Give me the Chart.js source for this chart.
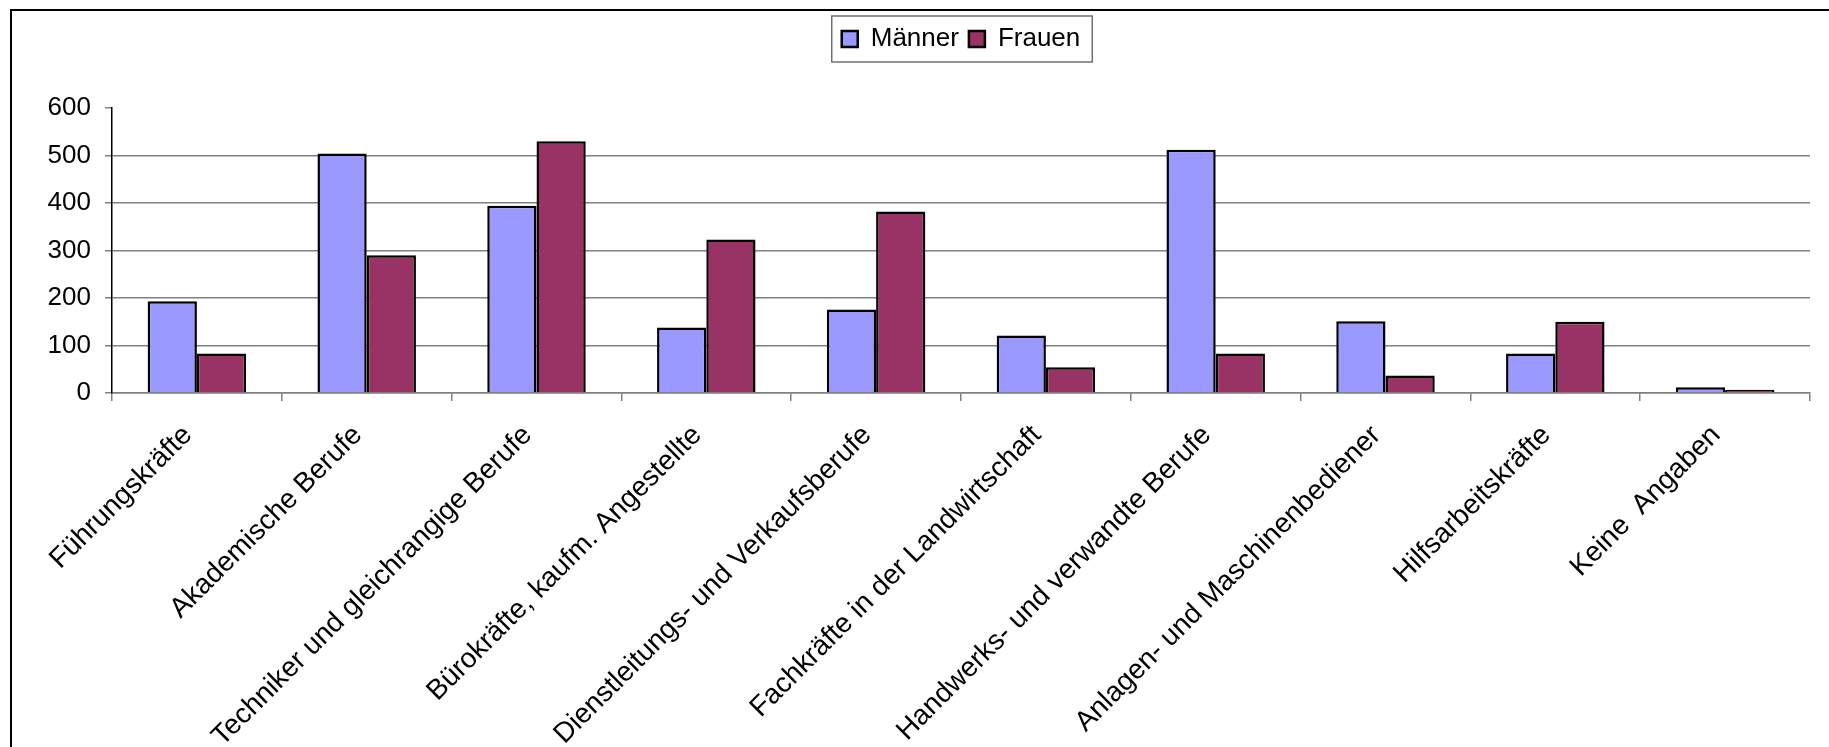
<!DOCTYPE html>
<html>
<head>
<meta charset="utf-8">
<script src="https://cdn.jsdelivr.net/npm/chart.js@4.4.0/dist/chart.umd.min.js"></script>
<style>
    html, body { margin: 0; padding: 0; background: #fff; overflow: hidden; }
    #frame { position: absolute; left: 10px; top: 9px; width: 1900px; height: 800px; border-top: 2px solid #000; border-left: 2px solid #000; }
    #wrap { position: absolute; left: 0; top: 0; width: 1829px; height: 747px; }
</style>
</head>
<body>
<div id="frame"></div>
<div id="wrap"><canvas id="barChart"></canvas></div>
<script>
var categories = [
    'Führungskräfte',
    'Akademische Berufe',
    'Techniker und gleichrangige Berufe',
    'Bürokräfte, kaufm. Angestellte',
    'Dienstleitungs- und Verkaufsberufe',
    'Fachkräfte in der Landwirtschaft',
    'Handwerks- und verwandte Berufe',
    'Anlagen- und Maschinenbediener',
    'Hilfsarbeitskräfte',
    'Keine  Angaben'
];
var maenner = [193, 504, 394, 138, 176, 121, 512, 151, 83, 12];
var frauen = [83, 290, 530, 323, 382, 54, 83, 37, 150, 7];
var yMin = 0;
var yMax = 600;
var yStep = 100;

var fontFamily = '"Liberation Sans", Arial, sans-serif';

// frame around the legend, like the old spreadsheet chart
var legendBox = {
    id: 'legendBox',
    beforeLayout: function (chart) {
        var lg = chart.legend;
        if (lg && !lg._extraSpace) {
            var origFit = lg.fit;
            lg.fit = function () {
                origFit.call(this);
                this.height += 46; // gap between legend and plot
            };
            lg._extraSpace = true;
        }
    },
    afterDraw: function (chart) {
        var boxes = chart.legend.legendHitBoxes;
        if (!boxes || !boxes.length) return;
        var first = boxes[0], last = boxes[boxes.length - 1];
        var ctx = chart.ctx;
        ctx.save();
        ctx.strokeStyle = '#707070';
        ctx.lineWidth = 1.5;
        ctx.strokeRect(first.left - 10, first.top - 10,
            last.left + last.width - first.left + 22, first.height + 20);
        ctx.restore();
    }
};

document.addEventListener('DOMContentLoaded', function () {
    var ctx = document.getElementById('barChart').getContext('2d');

    var barChart = new Chart(ctx, {
        type: 'bar',
        data: {
            labels: categories,
            datasets: [{
                label: 'Männer',
                data: maenner,
                backgroundColor: '#9999FF',
                borderColor: '#000000',
                borderWidth: 2.5
            }, {
                label: 'Frauen',
                data: frauen,
                backgroundColor: '#993366',
                borderColor: '#000000',
                borderWidth: 2.5
            }]
        },
        options: {
            responsive: true,
            maintainAspectRatio: false,
            animation: false,
            datasets: {
                bar: { categoryPercentage: 0.58, barPercentage: 1.0 }
            },
            layout: {
                padding: { left: 12, right: 19, top: 16, bottom: 0 }
            },
            plugins: {
                tooltip: { enabled: false },
                legend: {
                    position: 'top',
                    fullSize: false,
                    labels: {
                        color: '#000',
                        font: { family: fontFamily, size: 26 },
                        boxWidth: 16,
                        boxHeight: 16,
                        padding: 10
                    }
                }
            },
            scales: {
                x: {
                    grid: {
                        offset: true,
                        drawOnChartArea: false,
                        drawTicks: true,
                        tickLength: 8,
                        color: '#808080',
                        lineWidth: 1.5
                    },
                    border: { color: '#808080', width: 1.5 },
                    ticks: {
                        color: '#000',
                        font: { family: fontFamily, size: 28 },
                        minRotation: 45,
                        maxRotation: 45,
                        autoSkip: false,
                        padding: 18,
                        labelOffset: -9
                    },
                    afterFit: function (scale) { scale.height = 354; }
                },
                y: {
                    min: yMin,
                    max: yMax,
                    ticks: {
                        stepSize: yStep,
                        color: '#000',
                        font: { family: fontFamily, size: 26 },
                        padding: 14
                    },
                    grid: {
                        color: function (c) {
                            return c.tick && c.tick.value === yMax ? 'rgba(0,0,0,0)' : '#808080';
                        },
                        tickColor: '#808080',
                        tickLength: 7,
                        lineWidth: 1.5
                    },
                    border: { color: '#000', width: 1.5 },
                    afterFit: function (scale) { scale.width = 100; }
                }
            }
        },
        plugins: [legendBox]
    });
});
</script>
</body>
</html>
